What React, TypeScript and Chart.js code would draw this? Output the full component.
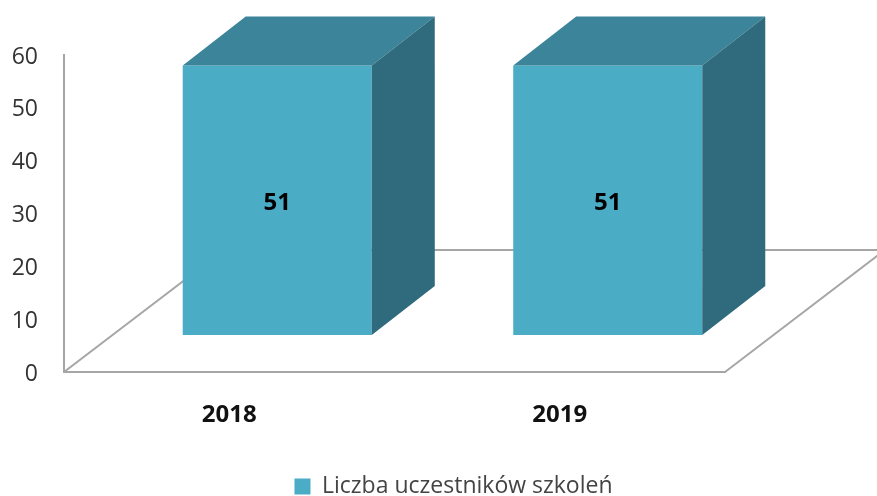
import React, { useEffect, useRef } from "react";
import { Chart, registerables } from "chart.js";

Chart.register(...registerables);

const categories = ["2018", "2019"];
const seriesName = "Liczba uczestników szkoleń";
const values = [51, 51];

const FRONT = "#4BACC6";
const TOP = "#3B8499";
const SIDE = "#2F6A7D";
const AXIS = "#A6A6A6";
const FONT = "'Open Sans', sans-serif";

const BAR_SHIFT = { x: 48, y: -37 };
const BAR_DEPTH = { x: 63, y: -49 };
const FLOOR_DEPTH = { x: 160, y: -122 };
const LEGEND_SHIFT = { x: 91, y: 12 };
const Y_LABEL_NUDGE = 2;
const VALUE_LABEL_NUDGE = 3;

const bars3d = {
  id: "bars3d",
  afterLayout(chart: any) {
    const lg = chart.legend;
    lg.left += LEGEND_SHIFT.x;
    lg.right += LEGEND_SHIFT.x;
    lg.top += LEGEND_SHIFT.y;
    lg.bottom += LEGEND_SHIFT.y;
    chart.scales.y.getLabelItems(chart.chartArea).forEach((item: any) => {
      item.options.translation[1] += Y_LABEL_NUDGE;
    });
  },
  beforeDatasetsDraw(chart: any) {
    const { ctx, chartArea: a } = chart;
    ctx.save();
    ctx.strokeStyle = AXIS;
    ctx.lineWidth = 2;
    ctx.beginPath();
    ctx.moveTo(a.left, a.bottom);
    ctx.lineTo(a.left + FLOOR_DEPTH.x, a.bottom + FLOOR_DEPTH.y);
    ctx.lineTo(a.right + FLOOR_DEPTH.x, a.bottom + FLOOR_DEPTH.y);
    ctx.lineTo(a.right, a.bottom);
    ctx.stroke();
    ctx.restore();
    ctx.save();
    ctx.translate(BAR_SHIFT.x, BAR_SHIFT.y);
  },
  afterDatasetsDraw(chart: any) {
    const { ctx } = chart;
    ctx.restore();
    const meta = chart.getDatasetMeta(0);
    meta.data.forEach((bar: any, i: number) => {
      const p = bar.getProps(["x", "y", "base", "width"], true);
      const l = p.x - p.width / 2 + BAR_SHIFT.x;
      const r = p.x + p.width / 2 + BAR_SHIFT.x;
      const t = p.y + BAR_SHIFT.y;
      const b = p.base + BAR_SHIFT.y;
      const dx = BAR_DEPTH.x;
      const dy = BAR_DEPTH.y;
      ctx.fillStyle = TOP;
      ctx.beginPath();
      ctx.moveTo(l, t);
      ctx.lineTo(l + dx, t + dy);
      ctx.lineTo(r + dx, t + dy);
      ctx.lineTo(r, t);
      ctx.closePath();
      ctx.fill();
      ctx.fillStyle = SIDE;
      ctx.beginPath();
      ctx.moveTo(r, t);
      ctx.lineTo(r + dx, t + dy);
      ctx.lineTo(r + dx, b + dy);
      ctx.lineTo(r, b);
      ctx.closePath();
      ctx.fill();
      ctx.fillStyle = "#000000";
      ctx.font = `bold 24px ${FONT}`;
      ctx.textAlign = "center";
      ctx.textBaseline = "middle";
      ctx.fillText(String(values[i]), (l + r) / 2, (t + b) / 2 + VALUE_LABEL_NUDGE);
    });
  },
};

export default function App() {
  const ref = useRef<HTMLCanvasElement>(null);
  useEffect(() => {
    document.body.style.margin = "0";
    document.body.style.background = "#ffffff";
    const chart = new Chart(ref.current as HTMLCanvasElement, {
      type: "bar",
      data: {
        labels: categories,
        datasets: [
          {
            label: seriesName,
            data: values,
            backgroundColor: FRONT,
            borderWidth: 0,
            categoryPercentage: 1,
            barPercentage: 0.572,
            clip: false,
          } as any,
        ],
      },
      plugins: [bars3d],
      options: {
        animation: false,
        responsive: false,
        maintainAspectRatio: false,
        layout: { padding: { top: 55, left: 0, right: 152, bottom: 0 } },
        plugins: {
          title: { display: false },
          tooltip: { enabled: false },
          legend: {
            position: "bottom",
            labels: {
              boxWidth: 16,
              boxHeight: 16,
              padding: 0,
              color: "#444444",
              font: { family: FONT, size: 23 },
            },
          },
        },
        scales: {
          x: {
            grid: { display: false, drawTicks: false },
            border: { display: true, color: AXIS, width: 2 },
            ticks: {
              padding: 29,
              color: "#111111",
              font: { family: FONT, size: 24, weight: "bold" },
              maxRotation: 0,
            },
            afterFit(s: any) {
              s.height = 91;
            },
          },
          y: {
            min: 0,
            max: 60,
            grid: { display: false, drawTicks: false },
            border: { display: true, color: AXIS, width: 2 },
            ticks: {
              stepSize: 10,
              padding: 26,
              color: "#333333",
              font: { family: FONT, size: 23 },
            },
            afterFit(s: any) {
              s.width = 64;
            },
          },
        },
      } as any,
    });
    return () => chart.destroy();
  }, []);
  return <canvas ref={ref} width={877} height={496} style={{ display: "block" }} />;
}
